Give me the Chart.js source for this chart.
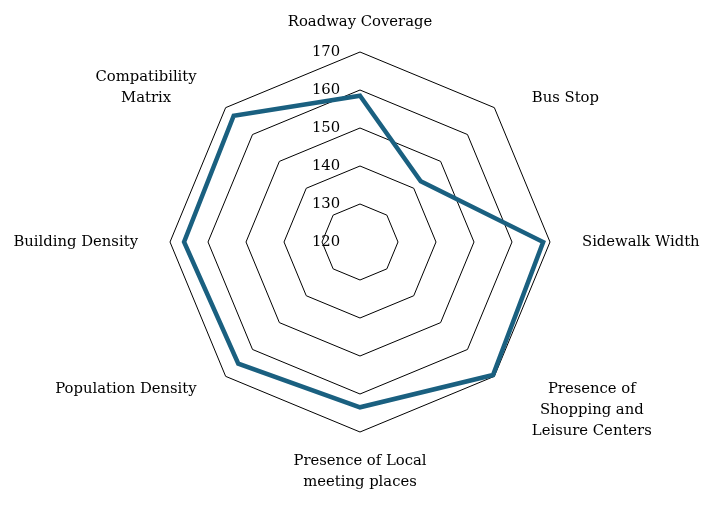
<!DOCTYPE html>
<html>
<head>
<meta charset="utf-8">
<script src="https://cdn.jsdelivr.net/npm/chart.js@4.4.1/dist/chart.umd.min.js"></script>
<style>
html,body{margin:0;padding:0;background:#fff;}
#wrap{width:714px;height:507px;position:relative;}
</style>
</head>
<body>
<div id="wrap"><canvas id="c"></canvas></div>
<script>
const categories = [
  ["Roadway Coverage"],
  ["Bus Stop"],
  ["Sidewalk Width"],
  ["Presence of", "Shopping and", "Leisure Centers"],
  ["Presence of Local", "meeting places"],
  ["Population Density"],
  ["Building Density"],
  ["Compatibility", "Matrix"]
];
const values = [158.5, 142.6, 168.2, 169.5, 163.5, 165.3, 166.3, 167.0];
const tickValues = [120, 130, 140, 150, 160, 170];

const FONT = "'DejaVu Serif', serif";
const FONT_SIZE = 14.8;
const LINE_H = 20.7;

const labelPlugin = {
  id: 'customLabels',
  beforeDatasetsDraw(chart) {
    const scale = chart.scales.r;
    const ctx = chart.ctx;
    ctx.save();
    ctx.font = FONT_SIZE + "px " + FONT;
    ctx.fillStyle = "#000";
    ctx.textAlign = "center";
    ctx.textBaseline = "middle";
    tickValues.forEach(v => {
      const d = scale.getDistanceFromCenterForValue(v);
      ctx.fillText(String(v), scale.xCenter - 34, scale.yCenter - d);
    });
    ctx.restore();
  },
  afterDraw(chart) {
    const scale = chart.scales.r;
    const ctx = chart.ctx;
    const R = scale.drawingArea;
    ctx.save();
    ctx.font = FONT_SIZE + "px " + FONT;
    ctx.fillStyle = "#000";
    ctx.textAlign = "center";
    ctx.textBaseline = "middle";
    categories.forEach((lines, i) => {
      const a = scale.getIndexAngle(i); // 0 at top, clockwise
      const s = Math.sin(a), c = Math.cos(a);
      const w = Math.max(...lines.map(t => ctx.measureText(t).width));
      const h = lines.length * LINE_H - (LINE_H - FONT_SIZE);
      const diag = Math.abs(s) > 0.1 && Math.abs(c) > 0.1;
      let ax, ay;
      if (diag) {
        ax = s > 0 ? 53 : 41;
        ay = c > 0 ? 3 : 8;
      } else {
        ax = 32;
        ay = 22;
      }
      const sx = Math.abs(s) < 0.1 ? 0 : Math.sign(s);
      const sy = Math.abs(c) < 0.1 ? 0 : Math.sign(c);
      const bx = scale.xCenter + s * (R + ax) + sx * w / 2;
      const by = scale.yCenter - c * (R + ay) - sy * h / 2;
      const top = by - (lines.length - 1) * LINE_H / 2;
      lines.forEach((t, k) => ctx.fillText(t, bx, top + k * LINE_H));
    });
    ctx.restore();
  }
};

new Chart(document.getElementById('c'), {
  type: 'radar',
  data: {
    labels: categories,
    datasets: [{
      data: values,
      borderColor: '#1a6080',
      borderWidth: 4.5,
      fill: false,
      pointRadius: 0,
      pointHoverRadius: 0,
      borderJoinStyle: 'miter'
    }]
  },
  options: {
    responsive: true,
    maintainAspectRatio: false,
    animation: false,
    layout: { padding: { top: 52, bottom: 75, left: 100, right: 94 } },
    plugins: { legend: { display: false }, tooltip: { enabled: false } },
    scales: {
      r: {
        min: 120,
        max: 170,
        ticks: { display: false, stepSize: 10 },
        grid: { color: '#000', lineWidth: 1 },
        angleLines: { display: false },
        pointLabels: { display: false }
      }
    }
  },
  plugins: [labelPlugin]
});
</script>
</body>
</html>
